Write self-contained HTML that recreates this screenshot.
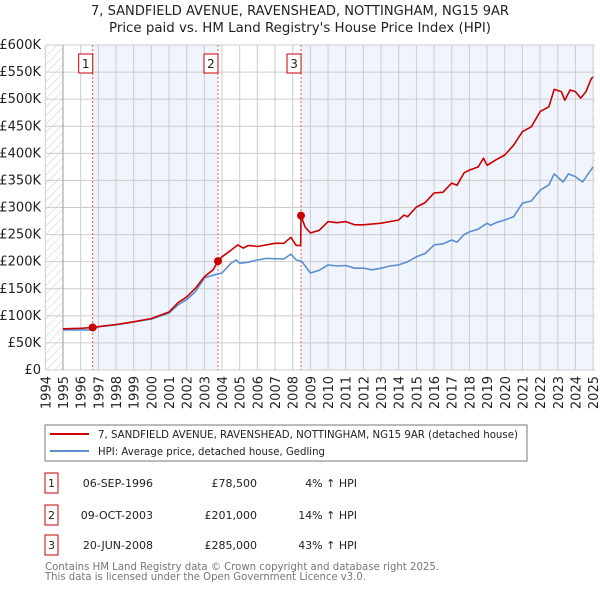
<!DOCTYPE html>
<html><head><meta charset="utf-8"><style>
body{margin:0;background:#fff;width:600px;height:590px;overflow:hidden;font-family:"DejaVu Sans","Liberation Sans",sans-serif;}
svg text{font-family:"DejaVu Sans","Liberation Sans",sans-serif;}
</style></head><body>
<svg id="chart" width="600" height="590" xmlns="http://www.w3.org/2000/svg">
<defs><pattern id="hatch" width="6" height="6" patternUnits="userSpaceOnUse" patternTransform="rotate(45)"><line x1="0" y1="0" x2="0" y2="6" stroke="#ccc" stroke-width="1"/></pattern></defs>
<text x="300" y="15" text-anchor="middle" font-size="13" textLength="418" lengthAdjust="spacingAndGlyphs" fill="#222">7, SANDFIELD AVENUE, RAVENSHEAD, NOTTINGHAM, NG15 9AR</text>
<text x="300" y="32" text-anchor="middle" font-size="13" textLength="382" lengthAdjust="spacingAndGlyphs" fill="#222">Price paid vs. HM Land Registry's House Price Index (HPI)</text>
<g id="plot"></g>
<rect x="45" y="425" width="482" height="36" fill="#fff" stroke="#777"/>
<line x1="50" y1="434" x2="89" y2="434" stroke="#cc0000" stroke-width="2"/>
<text x="98" y="438" font-size="11" textLength="420" lengthAdjust="spacingAndGlyphs" fill="#222">7, SANDFIELD AVENUE, RAVENSHEAD, NOTTINGHAM, NG15 9AR (detached house)</text>
<line x1="50" y1="451" x2="89" y2="451" stroke="#5b8fd0" stroke-width="2"/>
<text x="98" y="455" font-size="11" textLength="227" lengthAdjust="spacingAndGlyphs" fill="#222">HPI: Average price, detached house, Gedling</text>
<g id="table" font-size="11" fill="#222"></g>
<text x="45" y="570" font-size="11" textLength="394" lengthAdjust="spacingAndGlyphs" fill="#777">Contains HM Land Registry data © Crown copyright and database right 2025.</text>
<text x="45" y="580" font-size="11" textLength="321" lengthAdjust="spacingAndGlyphs" fill="#777">This data is licensed under the Open Government Licence v3.0.</text>
</svg>
<script>
const hpiYears=[1995,1996,1996.7,1997,1998,1999,2000,2001,2001.5,2002,2002.5,2003,2003.5,2004,2004.5,2004.8,2005,2005.5,2006,2006.5,2007.5,2007.9,2008.2,2008.5,2009,2009.5,2010,2010.5,2011,2011.5,2012,2012.5,2013,2013.5,2014,2014.5,2015,2015.5,2016,2016.5,2017,2017.3,2017.7,2018,2018.5,2019,2019.2,2019.5,2020,2020.5,2021,2021.5,2022,2022.5,2022.8,2023.3,2023.6,2024,2024.4,2024.8,2025];
const hpiValues=[74,74,74,80,83,89,94,105,120,130,145,170,175,179,197,203,197,199,203,206,205,214,203,201,179,184,194,192,193,188,188,185,188,192,194,200,209,215,231,233,240,236,250,255,260,271,267,272,277,283,308,312,332,342,362,347,362,357,347,366,375];
const propYears=[1995,1996,1996.68,1997,1998,1999,2000,2001,2001.5,2002,2002.5,2003,2003.5,2003.77,2004,2004.5,2004.9,2005.2,2005.5,2006,2007,2007.5,2007.9,2008.2,2008.45,2008.47,2008.7,2009,2009.5,2010,2010.5,2011,2011.5,2012,2013,2014,2014.3,2014.5,2015,2015.5,2016,2016.5,2017,2017.3,2017.7,2018,2018.5,2018.8,2019,2019.5,2020,2020.5,2021,2021.5,2022,2022.5,2022.8,2023.2,2023.4,2023.7,2024,2024.3,2024.6,2024.9,2025];
const propValues=[76,77,78.5,80,84,89,95,107,124,135,151,172,185,201,209,221,231,225,230,228,234,234,245,230,230,285,264,253,258,274,272,274,268,268,271,277,286,283,301,309,327,328,345,341,364,369,375,391,378,388,397,415,440,449,477,486,518,514,498,517,514,502,514,538,541];
const saleYears=[1996.68,2003.77,2008.47];
const saleValues=[78.5,201,285];
const saleLabels=["1","2","3"];
const saleDates=["06-SEP-1996","09-OCT-2003","20-JUN-2008"];
const salePrices=["£78,500","£201,000","£285,000"];
const saleHpi=["4% ↑ HPI","14% ↑ HPI","43% ↑ HPI"];
const yTicks=[0,50,100,150,200,250,300,350,400,450,500,550,600];
const yTickLabels=["£0","£50K","£100K","£150K","£200K","£250K","£300K","£350K","£400K","£450K","£500K","£550K","£600K"];
const xTicks=[1994,1995,1996,1997,1998,1999,2000,2001,2002,2003,2004,2005,2006,2007,2008,2009,2010,2011,2012,2013,2014,2015,2016,2017,2018,2019,2020,2021,2022,2023,2024,2025];

const NS="http://www.w3.org/2000/svg";
const L=46,R=595,T=45,B=370;
const x=y=>63+(y-1995)*17.67;
const yv=v=>B-v*(B-T)/600;
const g=document.getElementById('plot');
function mk(tag,attrs,parent){const e=document.createElementNS(NS,tag);for(const k in attrs)e.setAttribute(k,attrs[k]);(parent||g).appendChild(e);return e;}
let e;
e=mk('rect',{x:L,y:T,width:R-L,height:B-T,fill:'#fff'});


e=mk('rect',{x:x(saleYears[0]),y:T,width:x(saleYears[1])-x(saleYears[0]),height:B-T,fill:'#f0f4fd'});


e=mk('rect',{x:x(saleYears[2]),y:T,width:x(2025)-x(saleYears[2]),height:B-T,fill:'#f0f4fd'});


e=mk('rect',{x:L,y:T,width:x(1995)-L,height:B-T,fill:'url(#hatch)'});


e=mk('rect',{x:x(2025),y:T,width:R-x(2025),height:B-T,fill:'url(#hatch)'});


yTicks.forEach((v,i)=>{
 e=mk('line',{x1:L,x2:R,y1:yv(v),y2:yv(v),stroke:'#ccc','stroke-width':1});
 
 
 e=mk('text',{x:L-5,y:yv(v)+4,'text-anchor':'end','font-size':13,fill:'#222'});
 e.textContent=yTickLabels[i];
 
 
});
xTicks.forEach(t=>{
 e=mk('line',{x1:x(t),x2:x(t),y1:T,y2:B,stroke:'#ccc','stroke-width':1});
 
 
 e=mk('text',{x:0,y:0,'text-anchor':'end','font-size':13,fill:'#222',transform:`translate(${x(t)+5},${B+6}) rotate(-90)`});
 e.textContent=t;
 
 
});
e=mk('line',{x1:x(1995),x2:x(1995),y1:T,y2:B,stroke:'#999'});


saleYears.forEach((s,i)=>{
 e=mk('line',{x1:x(s),x2:x(s),y1:T,y2:B,stroke:'#ee5555','stroke-dasharray':'2,2','stroke-width':1});
 
 
 e=mk('rect',{x:x(s)-14,y:54,width:14,height:19,fill:'#fff',stroke:'#cc0000'});
 
 
 e=mk('text',{x:x(s)-7,y:68,'text-anchor':'middle','font-size':12,fill:'#222'});
 e.textContent=saleLabels[i];
 
 
});
function line(xs,vs,col){return mk('polyline',{points:xs.map((t,i)=>x(t).toFixed(1)+','+yv(vs[i]).toFixed(1)).join(' '),fill:'none',stroke:col,'stroke-width':1.6,'stroke-linejoin':'round'});}
e=line(hpiYears,hpiValues,'#5b8fd0');


e=line(propYears,propValues,'#cc0000');


saleYears.forEach((s,i)=>{
 e=mk('circle',{cx:x(s),cy:yv(saleValues[i]),r:4,fill:'#cc0000'});
 
 
});
const tb=document.getElementById('table');
[483,515,545].forEach((cy,i)=>{
 e=mk('rect',{x:45,y:cy-10,width:13,height:20,fill:'#fff',stroke:'#cc0000'},tb);
 
 
 e=mk('text',{x:51.5,y:cy+4,'text-anchor':'middle'},tb);e.textContent=saleLabels[i];
 
 
 e=mk('text',{x:153,y:cy+4,'text-anchor':'end'},tb);e.textContent=saleDates[i];
 
 
 e=mk('text',{x:257,y:cy+4,'text-anchor':'end'},tb);e.textContent=salePrices[i];
 
 
 e=mk('text',{x:357,y:cy+4,'text-anchor':'end'},tb);e.textContent=saleHpi[i];
 
 
});
</script>
</body></html>
